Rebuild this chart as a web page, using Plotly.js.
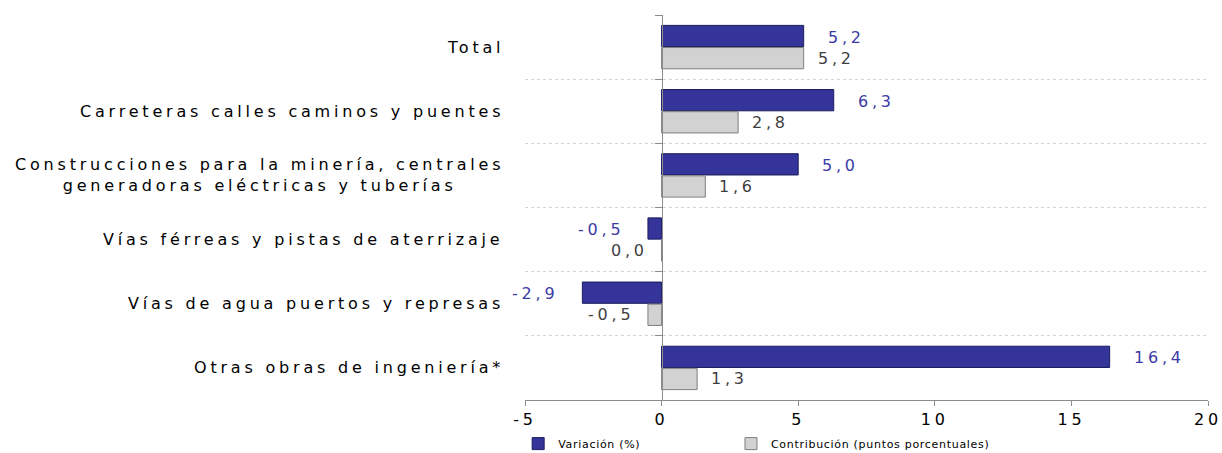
<!DOCTYPE html>
<html>
<head>
<meta charset="utf-8">
<script src="https://cdn.plot.ly/plotly-3.0.1.min.js"></script>
<style>
html,body{margin:0;padding:0;background:#fff}
#chart{width:1222px;height:453px}
svg text{letter-spacing:3.8px}
svg text.legendtext, svg text[class*="legend"], svg g[class*="legend"] text{letter-spacing:0.7px}
</style>
</head>
<body>
<div id="chart"></div>
<script>
const categories = [
  "Total",
  "Carreteras calles caminos y puentes",
  "Construcciones para la minería, centrales<br>generadoras eléctricas y tuberías",
  "Vías férreas y pistas de aterrizaje",
  "Vías de agua puertos y represas",
  "Otras obras de ingeniería*"
];
const variacion = [5.2, 6.3, 5.0, -0.5, -2.9, 16.4];
const contribucion = [5.2, 2.8, 1.6, 0.0, -0.5, 1.3];
const seriesNames = ["Variación (%)", "Contribución (puntos porcentuales)"];
const xTicks = [-5, 0, 5, 10, 15, 20];

const FONT = "DejaVu Sans, Liberation Sans, Arial, sans-serif";
const blue = "#34349a", blueLine = "#1b1b5e", blueText = "#3b3ba6";
const grey = "#d2d2d2", greyLine = "#7e7e7e", greyText = "#3f3f3f";

function fmt(v){ return v.toFixed(1).replace('.', ','); }

const traces = [
  {type:'bar', orientation:'h', name:seriesNames[0], y:categories, x:variacion, legend:'legend',
   marker:{color:blue, line:{color:blueLine, width:1}}, hoverinfo:'none'},
  {type:'bar', orientation:'h', name:seriesNames[1], y:categories, x:contribucion, legend:'legend2',
   marker:{color:grey, line:{color:greyLine, width:1}}, hoverinfo:'none'}
];

const annotations = [];
function addLabels(vals, yshift, color, gap, zeroLeft){
  vals.forEach((v,i)=>{
    const left = v < 0 || (v === 0 && zeroLeft);
    annotations.push({x:v, y:categories[i], xref:'x', yref:'y', text:fmt(v), showarrow:false,
      xanchor:left?'right':'left', xshift:left?-gap:gap, yshift:yshift,
      font:{family:FONT, size:16, color:color}});
  });
}
addLabels(variacion, 10, blueText, 22, false);
addLabels(contribucion, -11, greyText, 12, true);
categories.forEach(c=>{
  annotations.push({x:0, xref:'paper', xanchor:'right', xshift:-19, y:c, yref:'y', text:c,
    showarrow:false, align:'center', font:{family:FONT, size:16, color:'#000'}});
});

const legendBase = {orientation:'h', xanchor:'left', y:-0.0756, yanchor:'top',
  itemwidth:30, font:{family:FONT, size:11, color:'#000'}, bgcolor:'rgba(0,0,0,0)'};

const layout = {
  width:1222, height:453,
  margin:{l:525, r:14, t:15, b:53, autoexpand:false},
  paper_bgcolor:'#fff', plot_bgcolor:'#fff',
  separators:',.',
  barmode:'group', bargap:0.31, bargroupgap:0.04,
  showlegend:true,
  legend:Object.assign({}, legendBase, {x:-0.01}),
  legend2:Object.assign({}, legendBase, {x:0.3016}),
  xaxis:{range:[-5,20], tickvals:xTicks, ticktext:xTicks.map(String),
    showgrid:false, zeroline:false,
    showline:true, linecolor:'#8c8c8c', linewidth:1, ticks:'outside', ticklen:5, tickcolor:'#8c8c8c',
    tickfont:{family:FONT, size:16, color:'#000'}, fixedrange:true},
  yaxis:{type:'category', autorange:'reversed', tickson:'boundaries',
    anchor:'free', position:0.2,
    showgrid:true, gridcolor:'#d4d4d4', griddash:'dot', gridwidth:1,
    showticklabels:false, ticks:'outside', ticklen:7, tickcolor:'#8c8c8c',
    showline:true, linecolor:'#8c8c8c', linewidth:1, zeroline:false, fixedrange:true},
  annotations:annotations,
  font:{family:FONT}
};

Plotly.newPlot('chart', traces, layout, {displayModeBar:false, staticPlot:true});
</script>
</body>
</html>
